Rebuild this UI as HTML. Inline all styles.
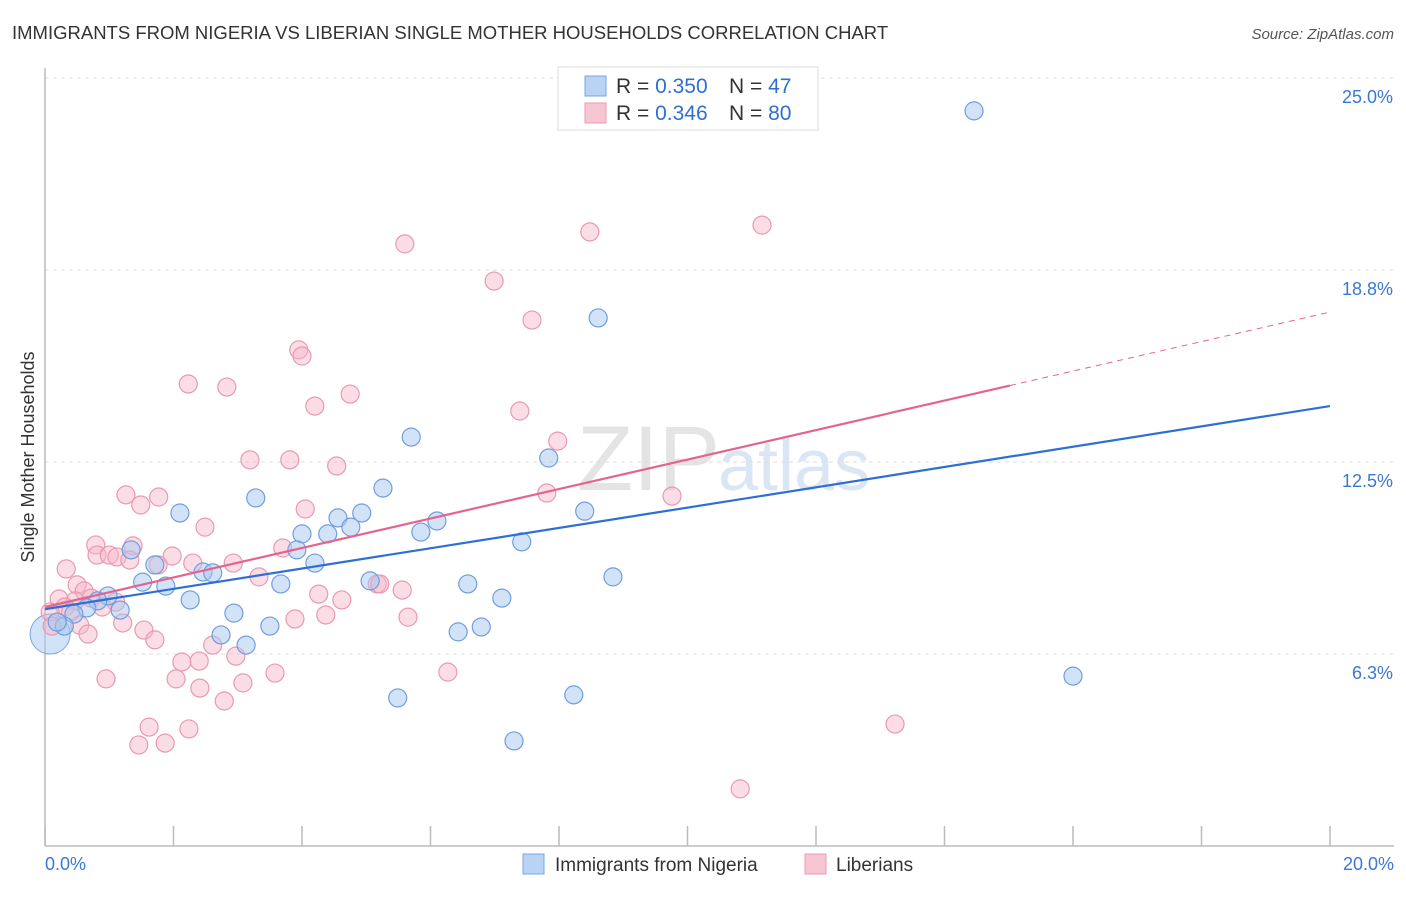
<!DOCTYPE html>
<html><head><meta charset="utf-8"><style>
body{margin:0;background:#fff;font-family:"Liberation Sans",sans-serif;}
svg text{font-family:"Liberation Sans",sans-serif;}
</style></head><body>
<svg id="chart" width="1406" height="892">
<text x="12" y="39" font-size="18.5" fill="#333">IMMIGRANTS FROM NIGERIA VS LIBERIAN SINGLE MOTHER HOUSEHOLDS CORRELATION CHART</text>
<text x="1394" y="39" font-size="15" fill="#555" font-style="italic" text-anchor="end">Source: ZipAtlas.com</text>
<text x="720" y="490" font-size="92" fill="#e4e4e4" text-anchor="end" font-family="Liberation Serif">ZIP</text>
<text x="718" y="490" font-size="72" fill="#dbe6f4">atlas</text>
<g id="grid"></g>
<g id="axes"></g>
<g id="pts"></g>
<g id="lines"></g>
<text transform="translate(34,457) rotate(-90)" font-size="18" fill="#333" text-anchor="middle">Single Mother Households</text>
<g>
<rect x="558" y="67" width="260" height="63" fill="#fff" stroke="#ddd"/>
<rect x="585" y="76" width="21" height="20" fill="#b9d3f5" stroke="#7aa6e3"/>
<rect x="585" y="103" width="21" height="20" fill="#f8c5d3" stroke="#ec9ab2"/>
<text x="616" y="93" font-size="21" fill="#333">R = <tspan fill="#2f6fd0">0.350</tspan></text>
<text x="729" y="93" font-size="21" fill="#333">N = <tspan fill="#2f6fd0">47</tspan></text>
<text x="616" y="120" font-size="21" fill="#333">R = <tspan fill="#2f6fd0">0.346</tspan></text>
<text x="729" y="120" font-size="21" fill="#333">N = <tspan fill="#2f6fd0">80</tspan></text>
</g>
<g>
<rect x="523" y="854" width="21" height="20" fill="#b9d3f5" stroke="#7aa6e3"/>
<text x="555" y="871" font-size="19" fill="#333">Immigrants from Nigeria</text>
<rect x="805" y="854" width="21" height="20" fill="#f8c5d3" stroke="#ec9ab2"/>
<text x="836" y="871" font-size="19" fill="#333">Liberians</text>
</g>
</svg>
<script>
const yTicks=[6.3,12.5,18.8,25.0];
const yTickVals=[6.25,12.5,18.75,25];
const xTickLabels=["0.0%","20.0%"];
const blueX=[14.46,8.61,5.70,7.84,5.26,3.28,2.10,8.40,4.93,4.56,6.10,4.76,4.00,4.40,5.85,7.42,3.92,1.34,4.20,1.71,2.46,2.61,8.84,1.52,1.88,3.67,5.06,6.58,0.98,2.26,7.11,0.82,1.17,0.65,0.45,2.94,3.50,0.30,0.19,2.74,6.43,6.79,3.13,16.00,8.23,5.49,7.30];
const blueY=[23.93,17.19,13.31,12.63,11.65,11.33,10.84,10.90,10.84,10.68,10.58,10.38,10.16,10.16,10.22,9.90,9.64,9.64,9.21,9.15,8.92,8.89,8.76,8.59,8.46,8.53,8.63,8.53,8.14,8.01,8.07,7.98,7.68,7.75,7.55,7.58,7.16,7.16,7.29,6.87,6.97,7.13,6.54,5.53,4.92,4.82,3.42];
const pinkX=[11.16,8.48,5.60,6.99,7.58,3.95,4.00,2.23,2.83,4.75,4.20,7.39,7.98,3.19,3.81,4.54,1.26,1.77,7.81,9.76,1.49,4.05,2.49,0.79,1.37,3.70,0.81,1.00,1.12,1.98,1.32,2.30,1.76,2.93,0.33,3.33,0.50,5.17,5.21,5.56,0.61,4.26,4.62,0.22,0.72,0.47,0.31,1.10,0.89,0.40,0.08,4.37,5.65,3.89,1.21,0.54,0.11,1.54,0.67,1.71,2.61,2.97,2.13,2.40,6.27,3.58,0.95,2.04,3.08,2.41,2.79,13.23,1.62,2.24,1.46,1.87,10.82];
const pinkY=[20.21,19.99,19.60,18.39,17.12,16.15,15.95,15.04,14.94,14.71,14.32,14.16,13.18,12.57,12.57,12.37,11.43,11.36,11.49,11.39,11.10,10.97,10.38,9.80,9.77,9.70,9.47,9.47,9.41,9.44,9.31,9.21,9.15,9.21,9.02,8.76,8.50,8.53,8.53,8.33,8.30,8.20,8.01,8.04,8.07,7.98,7.78,7.94,7.78,7.62,7.62,7.52,7.45,7.39,7.26,7.19,7.16,7.03,6.90,6.71,6.54,6.18,5.99,6.02,5.66,5.63,5.44,5.44,5.31,5.14,4.72,3.97,3.87,3.81,3.29,3.35,1.86];
const blueTrend=[7.71,14.32];
const pinkTrend=[7.78,17.38];
const pinkSolidEnd=15.02;
const NS="http://www.w3.org/2000/svg";
const X=v=>45+v/20*1285;
const Y=v=>846-v/6.25*192;
function mk(tag,attrs,parent){const e=document.createElementNS(NS,tag);for(const k in attrs)e.setAttribute(k,attrs[k]);document.getElementById(parent).appendChild(e);return e;}
yTickVals.forEach((v,i)=>{
 const l=mk('line',{x1:45,x2:1394,y1:Y(v),y2:Y(v),stroke:'#ddd','stroke-dasharray':'4,4'},'grid');
 
 
 const t=mk('text',{x:1393,y:Y(v)+25,'font-size':18,fill:'#3a78d4','text-anchor':'end'},'grid');
 t.textContent=yTicks[i].toFixed(1)+'%';
 
 
});
const ax=mk('line',{x1:45,x2:45,y1:68,y2:846,stroke:'#bbb','stroke-width':1.5},'axes');


const bx=mk('line',{x1:45,x2:1394,y1:846,y2:846,stroke:'#bbb','stroke-width':1.5},'axes');


for(let i=0;i<=10;i++){
 const t=mk('line',{x1:X(i*2),x2:X(i*2),y1:826,y2:846,stroke:'#bbb','stroke-width':1.5},'axes');
 
 
}
[[0,'start',45],[20,'end',1394]].forEach((d,i)=>{
 const t=mk('text',{x:d[2],y:870,'font-size':18,fill:'#3a78d4','text-anchor':d[1]},'axes');
 t.textContent=xTickLabels[i];
 
 
});
const big=mk('circle',{cx:X(0.08),cy:Y(6.9),r:20,fill:'rgba(168,200,240,0.5)',stroke:'#7aa6e3'},'pts');


pinkX.forEach((x,i)=>{
 const c=mk('circle',{cx:X(x),cy:Y(pinkY[i]),r:9,fill:'rgba(246,180,200,0.45)',stroke:'#eb98b1','stroke-width':1.2},'pts');
 
 
});
blueX.forEach((x,i)=>{
 const c=mk('circle',{cx:X(x),cy:Y(blueY[i]),r:9,fill:'rgba(168,200,240,0.5)',stroke:'#6f9ee0','stroke-width':1.2},'pts');
 
 
});
const pAt=x=>pinkTrend[0]+(pinkTrend[1]-pinkTrend[0])*x/20;
const bl=mk('line',{x1:X(0),y1:Y(blueTrend[0]),x2:X(20),y2:Y(blueTrend[1]),stroke:'#2e6fd6','stroke-width':2.2},'lines');


const pl=mk('line',{x1:X(0),y1:Y(pAt(0)),x2:X(pinkSolidEnd),y2:Y(pAt(pinkSolidEnd)),stroke:'#e5648e','stroke-width':2.2},'lines');


const pd=mk('line',{x1:X(pinkSolidEnd),y1:Y(pAt(pinkSolidEnd)),x2:X(20),y2:Y(pAt(20)),stroke:'#e5648e','stroke-width':1,'stroke-dasharray':'6,5'},'lines');


</script>
</body></html>
